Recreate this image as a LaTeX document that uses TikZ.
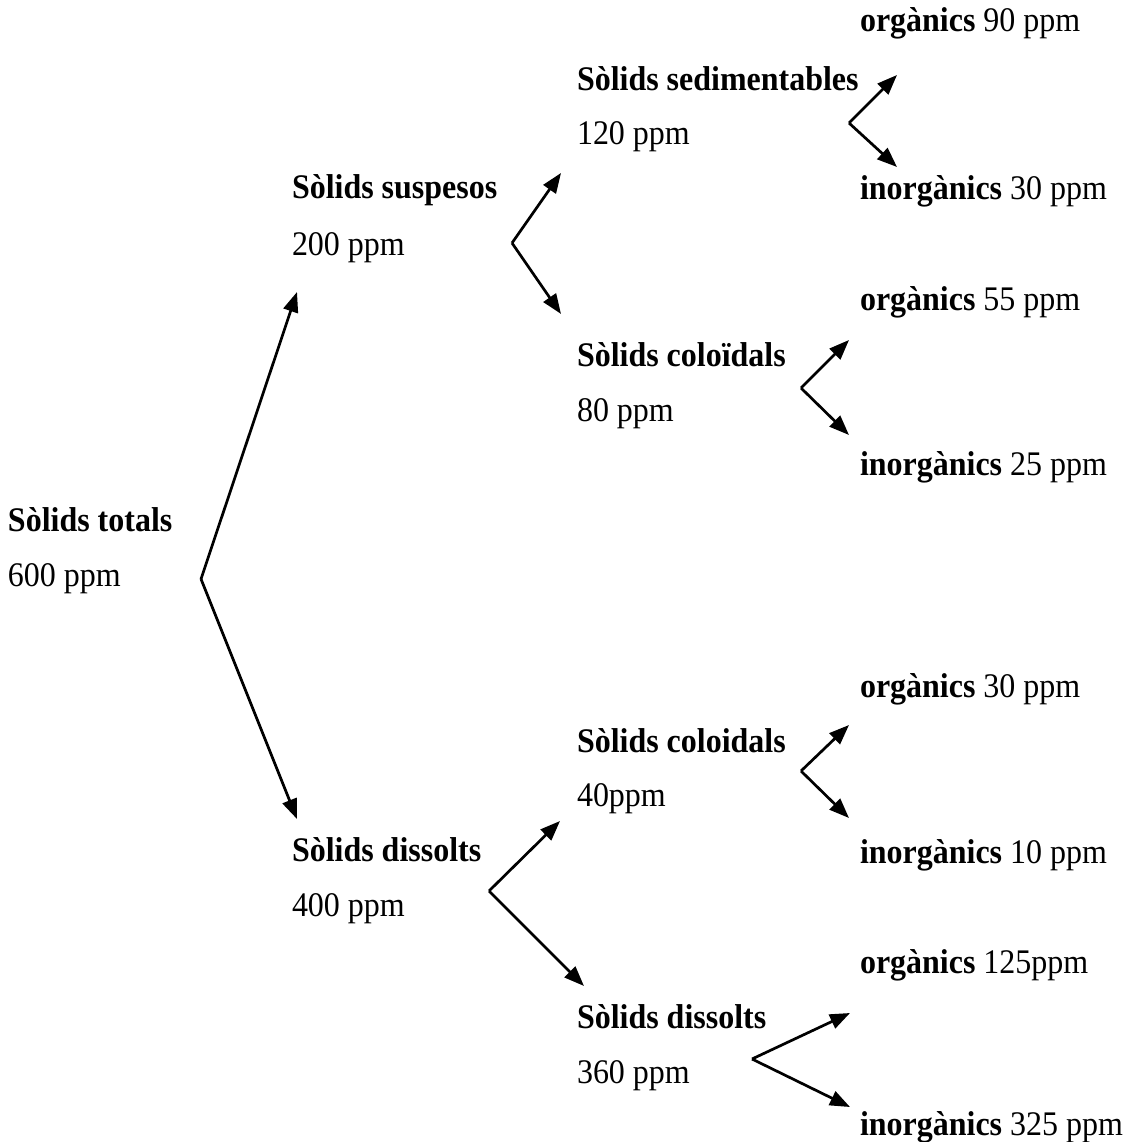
\documentclass[tikz,border=0pt]{standalone}
\usepackage{fontspec}
\setmainfont{Liberation Serif}[FakeStretch=0.927]
\usetikzlibrary{arrows.meta}
\begin{document}
\begin{tikzpicture}[x=1pt,y=-1pt,
  lbl/.style={anchor=base west,inner sep=0pt,outer sep=0pt,font=\fontsize{34.5}{40}\selectfont},
  arr/.style={line width=2.7pt,-{Triangle[length=20pt,width=15pt]}}]
\useasboundingbox (0,0) rectangle (1127,1142);
% texts
\node[lbl] (t1) at (8,531) {\textbf{Sòlids totals}};
\node[lbl] (t2) at (8,586) {600 ppm};
\node[lbl] (s1) at (292,198) {\textbf{Sòlids suspesos}};
\node[lbl] (s2) at (292,255) {200 ppm};
\node[lbl] (d1) at (292,861) {\textbf{Sòlids dissolts}};
\node[lbl] (d2) at (292,916) {400 ppm};
\node[lbl] (se1) at (577,91) {\textbf{Sòlids sedimentables}};
\node[lbl] (se2) at (577,145) {120 ppm};
\node[lbl] (co1) at (577,366) {\textbf{Sòlids coloïdals}};
\node[lbl] (co2) at (577,421) {80 ppm};
\node[lbl] (cb1) at (577,752) {\textbf{Sòlids coloidals}};
\node[lbl] (cb2) at (577,806) {40ppm};
\node[lbl] (db1) at (577,1028) {\textbf{Sòlids dissolts}};
\node[lbl] (db2) at (577,1083) {360 ppm};
\node[lbl] (o1) at (860,32) {\textbf{orgànics} 90 ppm};
\node[lbl] (i1) at (860,199) {\textbf{inorgànics} 30 ppm};
\node[lbl] (o2) at (860,310) {\textbf{orgànics} 55 ppm};
\node[lbl] (i2) at (860,475) {\textbf{inorgànics} 25 ppm};
\node[lbl] (o3) at (860,697) {\textbf{orgànics} 30 ppm};
\node[lbl] (i3) at (860,863) {\textbf{inorgànics} 10 ppm};
\node[lbl] (o4) at (860,973) {\textbf{orgànics} 125ppm};
\node[lbl] (i4) at (860,1135) {\textbf{inorgànics} 325 ppm};
% fork vertices and tips
\coordinate (v0) at (201,579);
\coordinate (v0a) at (297,292);
\coordinate (v0b) at (297,819);
\coordinate (v1) at (512,243);
\coordinate (v1a) at (561,173);
\coordinate (v1b) at (561,314);
\coordinate (v2) at (849,123);
\coordinate (v2a) at (897,75);
\coordinate (v2b) at (897,167);
\coordinate (v3) at (801,388);
\coordinate (v3a) at (849,340);
\coordinate (v3b) at (849,435);
\coordinate (v4) at (489,891);
\coordinate (v4a) at (560,821);
\coordinate (v4b) at (584,986);
\coordinate (v5) at (801,771);
\coordinate (v5a) at (849,725);
\coordinate (v5b) at (849,818);
\coordinate (v6) at (752,1059);
\coordinate (v6a) at (850,1013);
\coordinate (v6b) at (850,1107);
% connectors
\foreach \v in {v0,v1,v2,v3,v4,v5,v6}{
  \draw[arr] (\v) -- (\v a);
  \draw[arr] (\v) -- (\v b);
}
\end{tikzpicture}
\end{document}
